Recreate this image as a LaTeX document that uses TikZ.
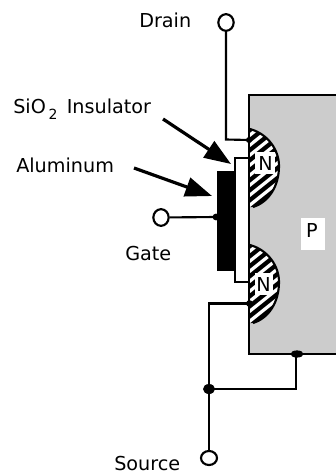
\documentclass[tikz,border=0pt]{standalone}
\usepackage{fontspec}
\setmainfont{DejaVu Sans}
\usetikzlibrary{arrows.meta,shapes.geometric}
\definecolor{sub}{gray}{0.8}
\tikzset{
  wire/.style={draw=black,line width=1.6pt},
  term/.style={draw=black,fill=white,line width=1.6pt,ellipse,minimum width=11.5pt,minimum height=12.5pt,inner sep=0pt},
  lab/.style={font=\fontsize{14.4pt}{16pt}\selectfont,inner sep=0pt,text=black},
  pointer/.style={draw=black,line width=2.4pt,-{Triangle[length=20pt,width=14.5pt]}},
  dotj/.style={fill=black,draw=none},
  whitebox/.style={fill=white,draw=none,inner sep=0pt}
}
\begin{document}
\begin{tikzpicture}[x=0.75pt,y=-0.75pt]
\useasboundingbox (0,0) rectangle (336,476);
% substrate
\fill[sub] (249,95) rectangle (336,354);
\draw[wire] (336,95) -- (249,95) -- (249,354) -- (336,354);
% N wells
\foreach \cy in {168,284}{
  \begin{scope}
    \clip (250,\cy-39) .. controls (268,\cy-34) and (279,\cy-18) .. (279,\cy-2)
      .. controls (279,\cy+18) and (269,\cy+34) .. (253,\cy+39) -- (250,\cy+39) -- cycle;
    \fill[white] (240,\cy-45) rectangle (285,\cy+45);
    \foreach \k in {-8,...,8}{
      \draw[black,line width=3.2pt] (240,\cy+\k*10+20) -- (290,\cy+\k*10-20);
    }
  \end{scope}
  \draw[wire] (250,\cy-39) .. controls (268,\cy-34) and (279,\cy-18) .. (279,\cy-2)
      .. controls (279,\cy+18) and (269,\cy+34) .. (253,\cy+39);
}
\draw[wire] (249,95) -- (249,354);
% labels on substrate
\node[whitebox,minimum width=15.5pt,minimum height=16pt] (nA) at (265,163) {};
\node[lab] (nAt) at (265.5,163) {N};
\node[whitebox,minimum width=13.5pt,minimum height=16pt] (nB) at (263.5,284) {};
\node[lab] (nBt) at (263.5,284) {N};
\node[whitebox,minimum width=18pt,minimum height=24pt] (pB) at (313,234) {};
\node[lab] (pBt) at (312,230.5) {P};
% gate stack
\node[fill=black,draw=none,minimum width=13.5pt,minimum height=75pt,inner sep=0pt] (alu) at (226,221) {};
\coordinate (insTop) at (249,158);
\coordinate (insBot) at (249,282);
\draw[wire] (insTop) -- (235,158) -- (235,282) -- (insBot);
% connection points
\coordinate (dJ) at (249,140);
\coordinate (gJ) at (216,217);
\coordinate (sJ) at (249.5,303.5);
\coordinate (mJ) at (209,389);
\coordinate (bJ) at (296,354);
\node[term] (drainT) at (226,22.5) {};
\node[term] (gateT) at (161,217.5) {};
\node[term,minimum width=12pt,minimum height=10.5pt] (sourceT) at (209,458) {};
% wires
\draw[wire] (drainT) -- (226,139.5) -- (dJ);
\draw[wire] (gateT) -- (gJ);
\draw[wire] (sJ) -- (209,303.5) -- (mJ);
\draw[wire] (mJ) -- (sourceT);
\draw[wire] (mJ) -- (296,389) -- (bJ);
% junction dots
\fill[dotj] (dJ) circle[radius=3];
\fill[dotj] (gJ) circle[radius=3.4];
\fill[dotj] (sJ) circle[radius=3.4];
\fill[dotj] (mJ) ellipse[x radius=6,y radius=5];
\fill[dotj] (297,354) ellipse[x radius=6.5,y radius=3.6];
% text
\node[lab,anchor=base west] (drainL) at (139,27) {Drain};
\node[lab,anchor=base west] (sioL) at (13,113) {SiO\kern2pt\raisebox{-5pt}{\fontsize{10.5pt}{12pt}\selectfont 2}\kern7pt Insulator};
\node[lab,anchor=base west] (aluL) at (16,172) {Aluminum};
\node[lab,anchor=base west] (gateL) at (125,260) {Gate};
\node[lab,anchor=base west] (sourceL) at (114,470) {Source};
% pointers
\coordinate (sioTip) at (231,164);
\coordinate (aluTip) at (212,196);
\coordinate (sioTail) at (163,119);
\coordinate (aluTail) at (134,168);
\draw[pointer] (sioTail) -- (sioTip);
\draw[pointer] (aluTail) -- (aluTip);
\end{tikzpicture}
\end{document}
